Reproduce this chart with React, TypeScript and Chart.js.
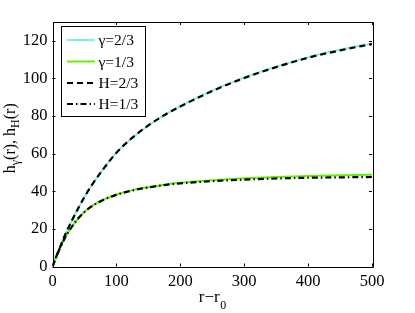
import React, { useEffect, useRef } from "react";
import { Chart, registerables } from "chart.js";

Chart.register(...registerables);

const rValues = [0, 5, 10, 20, 30, 40, 50, 60, 80, 100, 125, 150, 175, 200, 250, 300, 350, 400, 450, 500];
const gamma23 = [0, 4.5, 8.8, 17, 24.2, 30.8, 37, 42.5, 52, 60.5, 68.5, 75, 80.5, 85.2, 93.5, 100.4, 106.2, 111.2, 115.2, 118.6];
const gamma13 = [0, 4.4, 8.5, 15.5, 21, 25.5, 29, 31.8, 35.6, 38.3, 40.6, 42.2, 43.5, 44.5, 45.9, 46.9, 47.6, 48.1, 48.5, 48.8];
const h23 = [0, 4.5, 8.8, 17, 24.2, 30.8, 37, 42.5, 52, 60.5, 68.5, 75, 80.5, 85.1, 93.3, 100.2, 106, 111, 114.9, 118.3];
const h13 = [0, 4.4, 8.5, 15.5, 21, 25.5, 29, 31.7, 35.5, 38.1, 40.4, 42, 43.3, 44.2, 45.4, 46.2, 46.8, 47.2, 47.4, 47.6];
const xTicks = [0, 100, 200, 300, 400, 500];
const yTicks = [0, 20, 40, 60, 80, 100, 120];
const labels = ["γ=2/3", "γ=1/3", "H=2/3", "H=1/3"];

const SERIF = "'Liberation Serif', 'Times New Roman', serif";

const framePlugin = {
  id: "matlabFrame",
  afterDraw(chart: any) {
    const ctx = chart.ctx;
    const { left, right, top, bottom } = chart.chartArea;
    const xs = chart.scales.x;
    const ys = chart.scales.y;
    ctx.save();
    ctx.strokeStyle = "#000";
    ctx.lineWidth = 1;
    ctx.beginPath();
    ctx.rect(Math.round(left) + 0.5, Math.round(top) + 0.5, Math.round(right - left), Math.round(bottom - top));
    ctx.stroke();
    const tl = 3;
    ctx.beginPath();
    xTicks.forEach((v) => {
      const px = Math.round(xs.getPixelForValue(v)) + 0.5;
      ctx.moveTo(px, bottom);
      ctx.lineTo(px, bottom - tl);
      ctx.moveTo(px, top);
      ctx.lineTo(px, top + tl);
    });
    yTicks.forEach((v) => {
      const py = Math.round(ys.getPixelForValue(v)) + 0.5;
      ctx.moveTo(left, py);
      ctx.lineTo(left + tl, py);
      ctx.moveTo(right, py);
      ctx.lineTo(right - tl, py);
    });
    ctx.stroke();

    // legend
    const lx = 61, ly = 26, lw = 84, lh = 90;
    ctx.fillStyle = "#fff";
    ctx.fillRect(lx, ly, lw, lh);
    ctx.strokeRect(lx + 0.5, ly + 0.5, lw, lh);
    const rows = [40, 61.5, 83, 104];
    chart.data.datasets.forEach((ds: any, i: number) => {
      const y = rows[i];
      ctx.save();
      ctx.strokeStyle = ds.borderColor;
      ctx.lineWidth = ds.borderWidth;
      ctx.setLineDash(ds.borderDash || []);
      ctx.beginPath();
      ctx.moveTo(67, y);
      ctx.lineTo(95, y);
      ctx.stroke();
      ctx.restore();
      ctx.fillStyle = "#000";
      ctx.font = `15.5px ${SERIF}`;
      ctx.textBaseline = "middle";
      ctx.textAlign = "left";
      ctx.fillText(ds.label, 98.5, y + 1);
    });

    // x title: r−r0
    const cx = (left + right) / 2;
    ctx.textBaseline = "alphabetic";
    ctx.textAlign = "left";
    ctx.font = `17px ${SERIF}`;
    const main = "r\u2212r";
    const mw = ctx.measureText(main).width;
    ctx.font = `12px ${SERIF}`;
    const sw = ctx.measureText("0").width;
    const sx = cx - (mw + sw) / 2;
    ctx.font = `17px ${SERIF}`;
    ctx.fillText(main, sx, 302);
    ctx.font = `12px ${SERIF}`;
    ctx.fillText("0", sx + mw + 0.5, 309);

    // y title: h_γ(r), h_H(r)
    const parts: [string, boolean][] = [["h", false], ["γ", true], ["(r), h", false], ["H", true], ["(r)", false]];
    let total = 0;
    parts.forEach(([t, sub]) => {
      ctx.font = `${sub ? 12 : 16}px ${SERIF}`;
      total += ctx.measureText(t).width;
    });
    ctx.translate(15, (top + bottom) / 2 - 6);
    ctx.rotate(-Math.PI / 2);
    let px = -total / 2;
    parts.forEach(([t, sub]) => {
      ctx.font = `${sub ? 12 : 16}px ${SERIF}`;
      ctx.fillText(t, px, sub ? 4 : 0);
      px += ctx.measureText(t).width;
    });
    ctx.restore();
  },
};

export default function App() {
  const ref = useRef<HTMLCanvasElement>(null);
  useEffect(() => {
    if (!ref.current) return;
    const mk = (arr: number[]) => rValues.map((x, i) => ({ x, y: arr[i] }));
    const chart = new Chart(ref.current, {
      type: "line",
      data: {
        datasets: [
          { label: labels[0], data: mk(gamma23), borderColor: "#7af5d8", borderWidth: 2, order: 4 },
          { label: labels[1], data: mk(gamma13), borderColor: "#66f000", borderWidth: 2, order: 3 },
          { label: labels[2], data: mk(h23), borderColor: "#000", borderWidth: 2.2, borderDash: [6, 4], order: 2 },
          { label: labels[3], data: mk(h13), borderColor: "#000", borderWidth: 2.2, borderDash: [6, 3, 1.5, 3], order: 1 },
        ] as any,
      },
      options: {
        animation: false,
        responsive: false,
        events: [],
        elements: { point: { radius: 0 }, line: { cubicInterpolationMode: "monotone", fill: false } },
        layout: { padding: { top: 22, right: 43, left: 0, bottom: 0 } },
        plugins: { legend: { display: false }, tooltip: { enabled: false } },
        scales: {
          x: {
            type: "linear",
            min: 0,
            max: 500,
            grid: { display: false, drawTicks: false },
            border: { display: false },
            afterBuildTicks: (s: any) => { s.ticks = xTicks.map((v) => ({ value: v })); },
            afterFit: (s: any) => { s.height = 46.5; },
            ticks: { color: "#000", font: { family: SERIF, size: 16.5 }, padding: 5, maxRotation: 0 },
          },
          y: {
            type: "linear",
            min: 0,
            max: 130,
            grid: { display: false, drawTicks: false },
            border: { display: false },
            afterBuildTicks: (s: any) => { s.ticks = yTicks.map((v) => ({ value: v })); },
            afterFit: (s: any) => { s.width = 52.5; },
            ticks: { color: "#000", font: { family: SERIF, size: 16.5 }, padding: 5 },
          },
        },
      } as any,
      plugins: [framePlugin],
    });
    return () => chart.destroy();
  }, []);
  return (
    <div style={{ position: "fixed", left: 0, top: 0, width: 415, height: 313, background: "#fff" }}>
      <canvas ref={ref} width={415} height={313} />
    </div>
  );
}
